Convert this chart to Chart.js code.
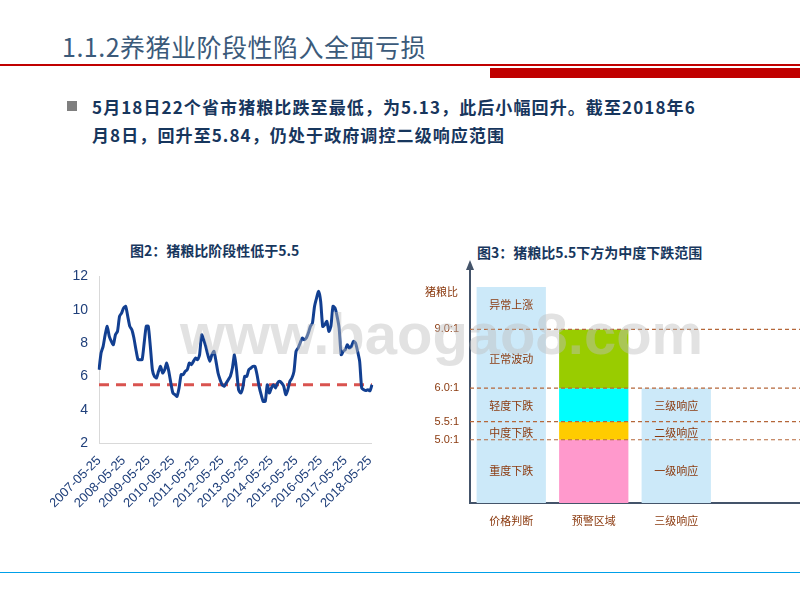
<!DOCTYPE html>
<html><head><meta charset="utf-8">
<script src="https://cdn.jsdelivr.net/npm/chart.js@4/dist/chart.umd.min.js"></script>
<style>
body{margin:0;width:800px;height:600px;position:relative;background:#fff;font-family:"Noto Sans CJK SC",sans-serif;overflow:hidden}
.abs{position:absolute}
#title{left:62px;top:28px;font-size:25px;color:#3b5a7a;letter-spacing:0.5px}
#bar1{left:0;top:64px;width:800px;height:2px;background:#c00000}
#bar2{left:490px;top:68px;width:310px;height:10px;background:#c00000}
#bul{left:67px;top:101px;width:10px;height:10px;background:#7f7f7f}
#txt{left:92px;top:93px;width:690px;font-size:17px;font-weight:bold;color:#17365d;line-height:28px;letter-spacing:1.1px;word-break:break-all}
.ct{font-size:14px;font-weight:bold;color:#17375e}
#foot{left:0;top:572px;width:800px;height:1px;background:#00a0e9}
#wm{left:180px;top:300px;font-family:Arial,sans-serif;font-size:58px;color:rgba(190,190,190,0.45);font-weight:bold;z-index:5;letter-spacing:0px}
</style></head><body>
<div class="abs" id="title">1.1.2养猪业阶段性陷入全面亏损</div>
<div class="abs" id="bar1"></div><div class="abs" id="bar2"></div>
<div class="abs" id="bul"></div>
<div class="abs" id="txt">5月18日22个省市猪粮比跌至最低，为5.13，此后小幅回升。截至2018年6<br>月8日，回升至5.84，仍处于政府调控二级响应范围</div>
<div class="abs ct" style="left:130px;top:240px">图2：猪粮比阶段性低于5.5</div>
<div class="abs ct" style="left:477px;top:242px">图3：猪粮比5.5下方为中度下跌范围</div>
<div class="abs" style="left:50px;top:265px;width:335px;height:250px"><canvas id="c1"></canvas></div>
<div class="abs" style="left:410px;top:255px;width:390px;height:280px"><canvas id="c2"></canvas></div>
<div class="abs" id="wm">www.baogao8.com</div>
<div class="abs" id="foot"></div>
<script>
const startYear=2007, startMonth=5;
const ratio=[6.4,7.4,7.8,8.5,9.0,8.4,8.1,7.9,
8.5,8.7,9.6,9.8,10.1,10.2,9.6,9.0,8.8,8.3,7.6,7.0,
7.0,7.0,8.0,9.0,9.0,7.8,6.4,6.0,5.9,6.3,6.6,6.2,
6.4,6.8,6.3,5.6,5.0,4.9,4.8,5.3,6.1,6.1,6.3,6.4,
6.8,6.7,6.9,7.1,7.0,7.3,8.5,8.2,7.8,7.3,6.9,7.3,
7.5,6.9,6.2,5.8,5.5,5.4,5.6,5.8,6.0,6.5,7.3,6.4,
5.2,5.0,5.3,6.0,6.0,6.4,6.5,6.6,6.6,6.1,5.4,4.9,
4.5,4.5,5.5,5.0,5.3,5.5,5.3,5.6,5.7,5.6,5.4,4.9,
5.2,5.7,5.9,6.3,7.5,7.7,8.0,8.3,8.2,8.3,8.6,9.0,
9.2,10.2,10.7,11.1,10.5,9.0,9.1,9.3,8.7,9.0,10.2,10.1,
9.6,8.9,7.3,7.5,7.6,7.9,7.7,7.8,8.1,8.0,7.5,6.9,
5.3,5.2,5.15,5.2,5.13,5.5];
const threshold=5.5;
const dates=ratio.map((_,i)=>{const m=startMonth-1+i;const y=startYear+Math.floor(m/12);const mm=m%12+1;return y+'-'+String(mm).padStart(2,'0')+'-25';});
const yTicks1=[2,4,6,8,10,12];
new Chart(document.getElementById('c1'),{type:'line',
data:{labels:dates,datasets:[
{data:ratio,borderColor:'#123f91',borderWidth:3,pointRadius:0,tension:0.2},
{data:dates.map(()=>threshold),borderColor:'#d9534f',borderWidth:3,borderDash:[10,7],pointRadius:0}]},
options:{animation:false,responsive:true,maintainAspectRatio:false,layout:{padding:{top:8,right:8}},
plugins:{legend:{display:false},tooltip:{enabled:false}},
scales:{x:{grid:{display:false},border:{color:'#d9d9d9'},
ticks:{autoSkip:false,maxRotation:45,minRotation:45,color:'#1f3f7a',font:{size:13,family:'Arial'},padding:2,
callback:function(v){const l=this.getLabelForValue(v);return l.slice(5,7)==='05'?l:'';}},
afterFit:s=>{s.height=72;}},
y:{min:2,max:12,afterBuildTicks:s=>{s.ticks=yTicks1.map(v=>({value:v}));},grid:{display:false},border:{color:'#d9d9d9'},
ticks:{color:'#1f3f7a',font:{size:14,family:'Arial'}},afterFit:s=>{s.width=33;}}}}});

// figure 3
const cols=['价格判断','预警区域','三级响应',''];
const levelVals=[3.5,4.5,6.35,9.6];
const levelLabels=['5.0:1','5.5:1','6.0:1','9.0:1'];
const topLevel=11.95;
const zones=[
{label:'判断',col:0,range:[0,topLevel],color:'#cce9f9'},
{label:'正常',col:1,range:[6.35,9.6],color:'#99cc00'},
{label:'轻度',col:1,range:[4.5,6.35],color:'#00ffff'},
{label:'中度',col:1,range:[3.5,4.5],color:'#ffcc00'},
{label:'重度',col:1,range:[0,3.5],color:'#ff99cc'},
{label:'响应',col:2,range:[0,6.35],color:'#cce9f9'}];
const texts=[
{col:0,y:10.95,t:'异常上涨'},{col:0,y:8.0,t:'正常波动'},{col:0,y:5.4,t:'轻度下跌'},{col:0,y:3.9,t:'中度下跌'},{col:0,y:1.8,t:'重度下跌'},
{col:2,y:5.4,t:'三级响应'},{col:2,y:3.9,t:'二级响应'},{col:2,y:1.8,t:'一级响应'}];
const brown='#8b3a0f';
const deco={id:'deco',afterDatasetsDraw(ch){const c=ch.ctx,x=ch.scales.x,y=ch.scales.y,a=ch.chartArea;
c.save();c.strokeStyle='#b5673a';c.lineWidth=1.2;c.setLineDash([4,3]);
levelVals.forEach(v=>{const py=y.getPixelForValue(v);c.beginPath();c.moveTo(a.left,py);c.lineTo(800-410,py);c.stroke();});
c.setLineDash([]);c.fillStyle=brown;c.font='11px "Noto Sans CJK SC"';c.textAlign='center';c.textBaseline='middle';
texts.forEach(o=>c.fillText(o.t,x.getPixelForValue(o.col),y.getPixelForValue(o.y)));
c.textAlign='right';c.fillText('猪粮比',a.left-12,y.getPixelForValue(11.7));
c.fillStyle='#44546a';c.beginPath();c.moveTo(a.left-4,a.top+2);c.lineTo(a.left+4,a.top+2);c.lineTo(a.left,a.top-8);c.fill();
c.restore();}};
new Chart(document.getElementById('c2'),{type:'bar',
data:{labels:cols,datasets:zones.map(z=>({data:cols.map((_,i)=>i===z.col?z.range:null),backgroundColor:z.color,barPercentage:0.84,categoryPercentage:1}))},
options:{animation:false,responsive:true,maintainAspectRatio:false,layout:{padding:{top:13,right:0}},
plugins:{legend:{display:false},tooltip:{enabled:false}},
scales:{x:{stacked:true,grid:{display:false},border:{color:'#44546a',width:2},ticks:{color:brown,font:{size:11,family:'Noto Sans CJK SC'}},afterFit:s=>{s.height=32;}},
y:{min:0,max:13,afterBuildTicks:s=>{s.ticks=levelVals.map(v=>({value:v}));},grid:{display:false},border:{color:'#44546a',width:2},
ticks:{color:brown,font:{size:11,family:'Arial'},callback:(v)=>levelLabels[levelVals.indexOf(v)]},afterFit:s=>{s.width=60;}}}},
plugins:[deco]});
</script></body></html>
